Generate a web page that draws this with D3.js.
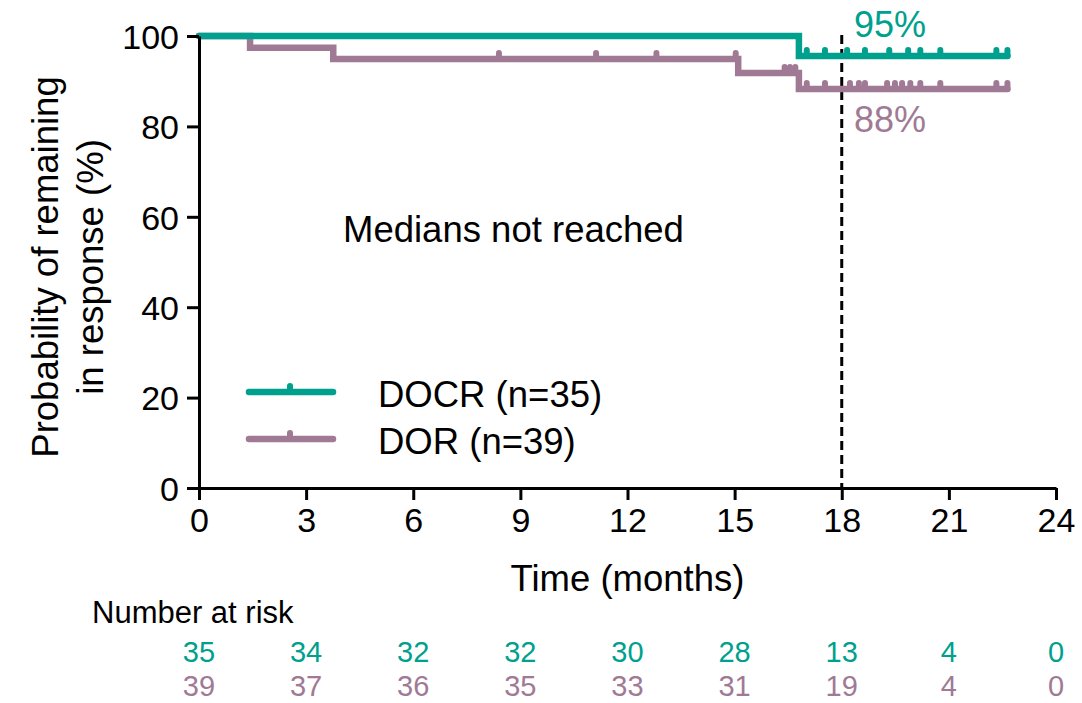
<!DOCTYPE html>
<html>
<head>
<meta charset="utf-8">
<script src="https://cdn.jsdelivr.net/npm/d3@7"></script>
<style>
  body { margin: 0; background: #fff; }
  text { font-family: "Liberation Sans", Arial, sans-serif; }
</style>
</head>
<body>
<div class="chart"></div>
<script>
var riskMonths = [0, 3, 6, 9, 12, 15, 18, 21, 24]
var docrRisk = [35, 34, 32, 32, 30, 28, 13, 4, 0]
var dorRisk = [39, 37, 36, 35, 33, 31, 19, 4, 0]

// step curves: time of each drop and the level after it
var docrTimes = [0, 16.8]
var docrSurv = [100, 95.6]
var docrEnd = 22.64
var dorTimes = [0, 1.43, 3.76, 15.1, 16.8]
var dorSurv = [100, 97.4, 94.9, 91.8, 88.3]
var dorEnd = 22.64

var docrCensor = [17.02, 17.53, 18.15, 18.65, 19.33, 19.86, 20.2, 20.76, 22.33, 22.64]
var dorCensor = [8.4, 11.12, 12.81, 15.03, 16.4, 16.55, 16.7, 17.02, 17.53, 18.23, 18.48,
    18.65, 19.27, 19.49, 19.69, 19.92, 20.2, 20.76, 22.33, 22.64]

var teal = "#00a08e"
var mauve = "#a07a95"

var svg = d3.select(".chart")
    .append("svg")
    .attr("width", 1082)
    .attr("height", 703)

var x = d3.scaleLinear().domain([0, 24]).range([199, 1056])
var y = d3.scaleLinear().domain([0, 100]).range([488, 36])

function stepPoints(times, surv, end) {
    var pts = times.map(function (t, i) { return [t, surv[i]] })
    pts.push([end, surv[surv.length - 1]])
    return pts
}
function levelAt(times, surv, t) {
    var v = surv[0]
    times.forEach(function (tt, i) { if (tt <= t) v = surv[i] })
    return v
}

var line = d3.line()
    .x(function (d) { return x(d[0]) })
    .y(function (d) { return y(d[1]) })
    .curve(d3.curveStepAfter)

// dashed reference at 18 months
svg.append("line")
    .attr("x1", x(18)).attr("x2", x(18))
    .attr("y1", 35).attr("y2", y(0))
    .attr("stroke", "#000")
    .attr("stroke-width", 3)
    .attr("stroke-dasharray", "9,5")

var groups = [
    { times: dorTimes, surv: dorSurv, end: dorEnd, censor: dorCensor, color: mauve },
    { times: docrTimes, surv: docrSurv, end: docrEnd, censor: docrCensor, color: teal }
]

groups.forEach(function (g) {
    svg.append("path")
        .attr("d", line(stepPoints(g.times, g.surv, g.end)))
        .attr("fill", "none")
        .attr("stroke", g.color)
        .attr("stroke-width", 6.5)
        .attr("stroke-linecap", "round")
        .attr("stroke-linejoin", "miter")

    svg.append("g")
        .selectAll("line")
        .data(g.censor)
        .enter()
        .append("line")
        .attr("x1", function (d) { return x(d) })
        .attr("x2", function (d) { return x(d) })
        .attr("y1", function (d) { return y(levelAt(g.times, g.surv, d)) })
        .attr("y2", function (d) { return y(levelAt(g.times, g.surv, d)) - 6 })
        .attr("stroke", g.color)
        .attr("stroke-width", 6)
        .attr("stroke-linecap", "round")
})

// axes
var xAxis = svg.append("g")
    .attr("transform", "translate(0," + y(0) + ")")
    .call(d3.axisBottom(x).tickValues(riskMonths).tickSize(12).tickSizeOuter(0).tickPadding(8))
var yAxis = svg.append("g")
    .attr("transform", "translate(" + x(0) + ",0)")
    .call(d3.axisLeft(y).tickValues([0, 20, 40, 60, 80, 100]).tickSize(12).tickSizeOuter(0).tickPadding(8))

;[xAxis, yAxis].forEach(function (a) {
    a.select(".domain").attr("stroke", "#000").attr("stroke-width", 3)
    a.selectAll(".tick line").attr("stroke", "#000").attr("stroke-width", 3)
    a.selectAll(".tick text").attr("fill", "#000").style("font-size", "34px")
        .style("font-family", "'Liberation Sans', Arial, sans-serif")
})
yAxis.selectAll(".tick text").attr("dy", "0.36em")

svg.append("text")
    .attr("x", x(12)).attr("y", 591)
    .attr("text-anchor", "middle")
    .style("font-size", "36.5px")
    .text("Time (months)")

var yt = svg.append("text")
    .attr("transform", "translate(45,267) rotate(-90)")
    .attr("text-anchor", "middle")
    .style("font-size", "36.5px")
yt.append("tspan").attr("x", 0).attr("dy", "0.36em").text("Probability of remaining")
yt.append("tspan").attr("x", 0).attr("dy", "1.24em").text("in response (%)")

svg.append("text")
    .attr("x", 343).attr("y", 242)
    .style("font-size", "36.5px")
    .text("Medians not reached")

svg.append("text")
    .attr("x", 854).attr("y", 37)
    .attr("fill", teal)
    .style("font-size", "36px")
    .text("95%")
svg.append("text")
    .attr("x", 854).attr("y", 132)
    .attr("fill", mauve)
    .style("font-size", "36px")
    .text("88%")

// legend
var legend = [
    { label: "DOCR (n=35)", color: teal, y: 392 },
    { label: "DOR (n=39)", color: mauve, y: 439 }
]
legend.forEach(function (l) {
    svg.append("line")
        .attr("x1", 249).attr("x2", 333)
        .attr("y1", l.y).attr("y2", l.y)
        .attr("stroke", l.color).attr("stroke-width", 6.5).attr("stroke-linecap", "round")
    svg.append("line")
        .attr("x1", 290).attr("x2", 290)
        .attr("y1", l.y).attr("y2", l.y - 6)
        .attr("stroke", l.color).attr("stroke-width", 6).attr("stroke-linecap", "round")
    svg.append("text")
        .attr("x", 378).attr("y", l.y + 15)
        .style("font-size", "36.5px")
        .text(l.label)
})

// number at risk table
svg.append("text")
    .attr("x", 92).attr("y", 623)
    .style("font-size", "31px")
    .text("Number at risk")

;[{ vals: docrRisk, color: teal, y: 662 }, { vals: dorRisk, color: mauve, y: 696 }].forEach(function (r) {
    svg.append("g")
        .selectAll("text")
        .data(r.vals)
        .enter()
        .append("text")
        .attr("x", function (d, i) { return x(riskMonths[i]) })
        .attr("y", r.y)
        .attr("text-anchor", "middle")
        .attr("fill", r.color)
        .style("font-size", "29px")
        .text(function (d) { return d })
})
</script>
</body>
</html>
